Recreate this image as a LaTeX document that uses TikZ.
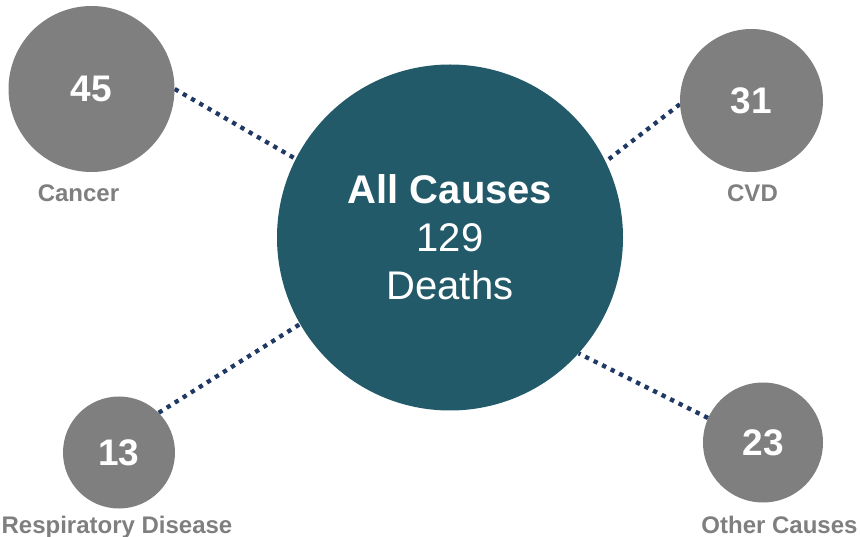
\documentclass[tikz,border=0pt]{standalone}
\usepackage{fontspec}
\setmainfont{Liberation Sans}
\usetikzlibrary{backgrounds}
\definecolor{teal1}{HTML}{225A69}
\definecolor{grey1}{HTML}{7F7F7F}
\definecolor{navy1}{HTML}{1F3864}
\begin{document}
\begin{tikzpicture}[x=1pt,y=-1pt,
  hub/.style={circle,fill=teal1,inner sep=0pt,text=white,align=center,
    font=\fontsize{40}{48}\selectfont},
  cause/.style={circle,fill=grey1,inner sep=0pt,text=white,
    font=\fontsize{37}{44}\selectfont\bfseries},
  causelabel/.style={anchor=base,text=grey1,inner sep=0pt,
    font=\fontsize{24}{28}\selectfont\bfseries},
  link/.style={draw=navy1,line width=4.3pt,dash pattern=on 4.3pt off 5.2pt}]
\useasboundingbox (0,0) rectangle (860,537);
% nodes
\node[hub,minimum size=346pt] (all) at (450,237.5)
  {{\bfseries All Causes}\\129\\Deaths};
\node[cause,minimum size=166pt] (cancer) at (91.5,89) {45};
\node[cause,minimum size=143pt] (cvd) at (751.5,100.5) {31};
\node[cause,minimum size=112pt] (resp) at (119,452.5) {13};
\node[cause,minimum size=120pt] (other) at (763,442.5) {23};
% labels
\node[causelabel] (lcancer) at (78.5,201.5) {Cancer};
\node[causelabel] (lcvd) at (752.5,202) {CVD};
\node[causelabel] (lresp) at (117,533) {Respiratory Disease};
\node[causelabel] (lother) at (779.5,533) {Other Causes};
% connectors (drawn behind the circles)
\begin{scope}[on background layer]
\draw[link] (cancer.east) -- (all.153);
\draw[link] (cvd.183) -- (all.26.6);
\draw[link] (resp.45) -- (all.210.8);
\draw[link] (other.156) -- (all.318.5);
\end{scope}
\end{tikzpicture}
\end{document}
